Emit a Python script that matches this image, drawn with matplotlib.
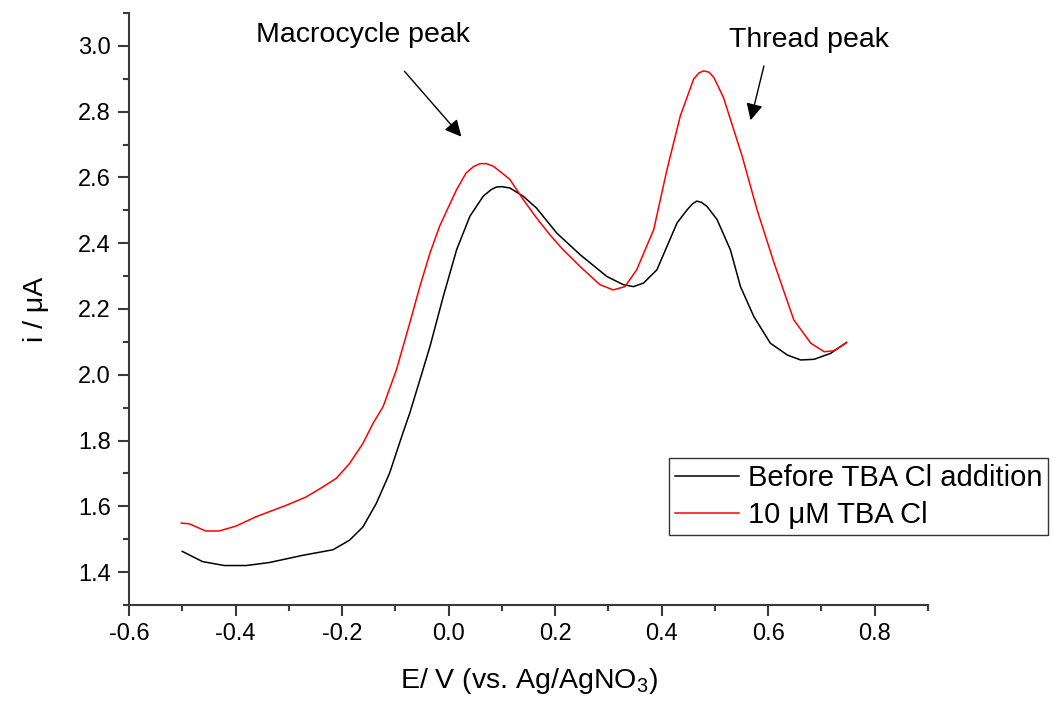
import matplotlib
matplotlib.use("Agg")
import matplotlib.pyplot as plt
from matplotlib.ticker import MultipleLocator

plt.rcParams['font.family'] = ['Liberation Sans', 'DejaVu Sans']
plt.rcParams['mathtext.fontset'] = 'custom'
plt.rcParams['mathtext.rm'] = 'Liberation Sans'
plt.rcParams['mathtext.it'] = 'Liberation Sans:italic'

# Before TBA Cl addition
E_before = [-0.50, -0.462, -0.421, -0.380, -0.337, -0.274, -0.217, -0.186, -0.161, -0.136,
            -0.111, -0.086, -0.073, -0.054, -0.035, -0.010, 0.015, 0.040, 0.065, 0.080, 0.090,
            0.100, 0.115, 0.140, 0.165, 0.203, 0.247, 0.297, 0.328, 0.347, 0.366, 0.391,
            0.429, 0.448, 0.458, 0.466, 0.475, 0.485, 0.504, 0.529, 0.548, 0.573, 0.604, 0.636,
            0.661, 0.686, 0.717, 0.747]
i_before = [1.463, 1.432, 1.420, 1.420, 1.429, 1.451, 1.468, 1.497, 1.537, 1.608,
            1.700, 1.822, 1.883, 1.984, 2.086, 2.238, 2.380, 2.482, 2.543, 2.563, 2.571,
            2.572, 2.568, 2.543, 2.507, 2.431, 2.365, 2.299, 2.274, 2.268, 2.279, 2.319,
            2.462, 2.502, 2.520, 2.528, 2.524, 2.512, 2.472, 2.380, 2.268, 2.177, 2.096, 2.060,
            2.045, 2.047, 2.065, 2.098]

# 10 uM TBA Cl
E_after = [-0.502, -0.487, -0.456, -0.431, -0.399, -0.362, -0.305, -0.268, -0.236, -0.211,
           -0.186, -0.161, -0.142, -0.123, -0.098, -0.073, -0.054, -0.035, -0.017, -0.004,
           0.015, 0.033, 0.047, 0.059, 0.071, 0.084, 0.096, 0.115, 0.140, 0.165, 0.190, 0.215,
           0.247, 0.284, 0.309, 0.331, 0.353, 0.385, 0.410, 0.435, 0.460, 0.470, 0.479,
           0.489, 0.498, 0.516, 0.541, 0.551, 0.579, 0.611, 0.648, 0.680, 0.705, 0.723, 0.747]
i_after = [1.549, 1.547, 1.525, 1.525, 1.540, 1.568, 1.603, 1.628, 1.659, 1.685,
           1.730, 1.791, 1.852, 1.903, 2.015, 2.157, 2.268, 2.370, 2.451, 2.497,
           2.563, 2.614, 2.633, 2.642, 2.642, 2.634, 2.619, 2.594, 2.533, 2.477, 2.426, 2.380,
           2.329, 2.274, 2.258, 2.268, 2.319, 2.441, 2.624, 2.787, 2.899, 2.918, 2.924,
           2.920, 2.904, 2.843, 2.716, 2.665, 2.502, 2.340, 2.167, 2.096, 2.070, 2.073, 2.098]

labels = ["Before TBA Cl addition", "10 \u03bcM TBA Cl"]

fig = plt.figure(figsize=(10.53, 7.03), dpi=100)
ax = fig.add_axes([129/1053, 1 - 605/703, (928 - 129)/1053, (605 - 13)/703])

ax.plot(E_before, i_before, color='black', lw=1.1, label=labels[0])
ax.plot(E_after, i_after, color='red', lw=1.1, label=labels[1])

ax.set_xlim(-0.6, 0.9)
ax.set_ylim(1.3, 3.1)
ax.xaxis.set_minor_locator(MultipleLocator(0.1))
ax.yaxis.set_minor_locator(MultipleLocator(0.1))
ax.set_xticks([-0.6, -0.4, -0.2, 0.0, 0.2, 0.4, 0.6, 0.8])
ax.set_yticks([1.4, 1.6, 1.8, 2.0, 2.2, 2.4, 2.6, 2.8, 3.0])
ax.xaxis.set_major_formatter(plt.FuncFormatter(lambda v, p: f"{v:.1f}"))
ax.yaxis.set_major_formatter(plt.FuncFormatter(lambda v, p: f"{v:.1f}"))

spc = '#3a3a3a'
for s in ['top', 'right']:
    ax.spines[s].set_visible(False)
for s in ['left', 'bottom']:
    ax.spines[s].set_color(spc)
    ax.spines[s].set_linewidth(1.5)
ax.tick_params(which='major', direction='out', length=8, width=1.5, color=spc,
               labelsize=17, pad=5)
ax.tick_params(which='minor', direction='out', length=4, width=1.5, color=spc)

ax.set_xlabel("E/ V (vs. Ag/AgNO$_3$)", fontsize=20.5, labelpad=15)
ax.set_ylabel("i / \u03bcA", fontsize=20.5, labelpad=21)

ax.annotate("", xy=(0.024, 2.724), xytext=(-0.083, 2.923),
            arrowprops=dict(arrowstyle='-|>', color='black', lw=1.0,
                            mutation_scale=25, shrinkA=0, shrinkB=0))
ax.text(-0.160, 3.033, "Macrocycle peak", fontsize=20.5, ha='center', va='center')
ax.annotate("", xy=(0.567, 2.774), xytext=(0.592, 2.939),
            arrowprops=dict(arrowstyle='-|>', color='black', lw=1.0,
                            mutation_scale=25, shrinkA=0, shrinkB=0))
ax.text(0.676, 3.017, "Thread peak", fontsize=20.5, ha='center', va='center')

leg = ax.legend(loc='upper left', bbox_to_anchor=(669/1053, 1 - 458/703),
                bbox_transform=fig.transFigure, fontsize=21, frameon=True,
                fancybox=False, edgecolor='black', handlelength=2.2,
                handletextpad=0.3, borderpad=0.2, labelspacing=0.32, borderaxespad=0)
leg.get_frame().set_linewidth(1.0)

fig.savefig("out.png", dpi=100)
